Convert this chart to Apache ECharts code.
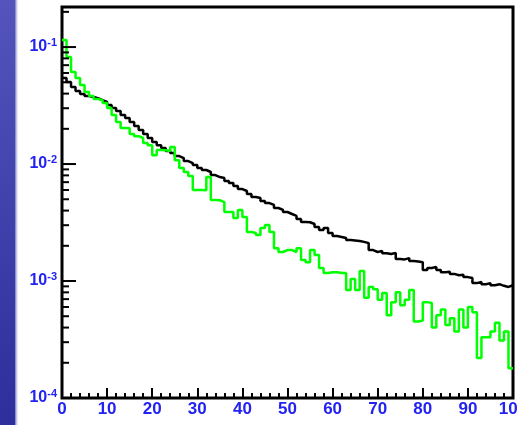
<!DOCTYPE html>
<html><head><meta charset="utf-8">
<script src="https://cdn.jsdelivr.net/npm/echarts@6/dist/echarts.min.js"></script>
<style>html,body{margin:0;padding:0;background:#fff;overflow:hidden;width:518px;height:425px}#c{width:545px;height:425px}</style>
</head><body><div id="c"></div>
<script>
// bin left edges (bin width 1, range 0..100)
const binEdges = Array.from({length: 100}, (_, i) => i);
const xEnd = 100;

const blackValues = [
0.0543,0.0502,0.0455,0.0421,0.0397,0.0381,0.0374,0.0366,0.0352,0.0339,
0.0319,0.0301,0.0284,0.0262,0.0247,0.0229,0.0211,0.0195,0.0181,0.0167,
0.0154,0.0145,0.0137,0.0129,0.0124,0.0117,0.01125,0.0106,0.0102,0.0098,
0.00925,0.00889,0.00855,0.00805,0.00774,0.00759,0.00716,0.00688,0.00649,0.00611,
0.00588,0.00554,0.00523,0.00512,0.00483,0.00464,0.00447,0.00421,0.00405,0.00389,
0.00374,0.0036,0.00339,0.00319,0.00318,0.00307,0.0029,0.00273,0.00284,0.00257,
0.00243,0.00238,0.00233,0.00224,0.00222,0.0022,0.00216,0.00211,0.00184,0.00177,
0.00181,0.00173,0.0017,0.00174,0.00154,0.00153,0.00157,0.00148,0.00147,0.00145,
0.00124,0.00129,0.00132,0.00124,0.00119,0.0012,0.00115,0.00112,0.00113,0.00108,
0.00106,0.00096,0.00098,0.00094,0.00096,0.00092,0.00094,0.00091,0.00089,0.00092];

const greenValues = [
0.115,0.0821,0.0611,0.0543,0.0473,0.0412,0.0381,0.036,0.0352,0.0332,
0.0301,0.0262,0.0229,0.0203,0.0202,0.0181,0.0173,0.0167,0.0151,0.0145,
0.0119,0.0132,0.0131,0.0129,0.014,0.0108,0.00925,0.00855,0.00789,0.006,
0.006,0.00598,0.00774,0.00492,0.0049,0.00473,0.00389,0.00389,0.00345,0.00405,
0.00352,0.00262,0.00257,0.00247,0.00284,0.00301,0.00262,0.00191,0.00177,0.00184,
0.00184,0.00177,0.00191,0.00151,0.00145,0.00184,0.00167,0.00129,0.00117,0.00119,
0.00119,0.00117,0.00117,0.00084,0.00104,0.00084,0.00122,0.00072,0.00089,0.00085,
0.00069,0.00079,0.00051,0.00066,0.0008,0.00062,0.00069,0.00084,0.00045,0.00046,
0.00066,0.00065,0.0004,0.00051,0.00057,0.00042,0.00048,0.00037,0.00057,0.0004,
0.0006,0.00054,0.00022,0.00033,0.00033,0.00037,0.00044,0.00031,0.00037,0.00018];

const yMajorTicks = [1e-4, 1e-3, 1e-2, 1e-1];
const yMinorTicks = [
2e-4,3e-4,4e-4,5e-4,6e-4,7e-4,8e-4,9e-4,
2e-3,3e-3,4e-3,5e-3,6e-3,7e-3,8e-3,9e-3,
2e-2,3e-2,4e-2,5e-2,6e-2,7e-2,8e-2,9e-2,
2e-1];

const LABEL_BLUE = '#2222f2';
const FONT = 'Liberation Sans, Arial, sans-serif';

function stepData(vals) {
  const d = binEdges.map((x, i) => [x, vals[i]]);
  d.push([xEnd, vals[vals.length - 1]]);
  return d;
}

function tickSeries(values, len) {
  return {
    type: 'custom', coordinateSystem: 'cartesian2d', silent: true, z: 6, clip: false,
    data: values.map(v => [0, v]),
    renderItem: function (params, api) {
      const p = api.coord([api.value(0), api.value(1)]);
      return {type: 'line', shape: {x1: p[0], y1: p[1], x2: p[0] + len, y2: p[1]},
              style: {stroke: '#000', lineWidth: 2}};
    }
  };
}

const chart = echarts.init(document.getElementById('c'), null, {renderer: 'canvas'});
chart.setOption({
  animation: false,
  backgroundColor: '#ffffff',
  graphic: [
    {type: 'rect', z: -10, shape: {x: 0, y: 0, width: 15, height: 425},
     style: {fill: {type: 'linear', x: 0, y: 0, x2: 0, y2: 1,
       colorStops: [{offset: 0, color: '#5454bc'}, {offset: 1, color: '#2e2e9c'}]}}},
    {type: 'rect', z: -10, shape: {x: 15, y: 0, width: 4, height: 425},
     style: {fill: {type: 'linear', x: 0, y: 0, x2: 1, y2: 0,
       colorStops: [{offset: 0, color: 'rgba(70,70,180,0.8)'}, {offset: 1, color: 'rgba(255,255,255,0)'}]}}}
  ],
  grid: {left: 62, right: 32, top: 7, bottom: 27, show: true, borderColor: '#000', borderWidth: 3,
         backgroundColor: 'transparent', containLabel: false},
  xAxis: {
    type: 'value', min: 0, max: 100, interval: 10,
    axisLine: {show: false},
    splitLine: {show: false},
    axisTick: {show: true, inside: true, length: 10, lineStyle: {color: '#000', width: 2}},
    minorTick: {show: true, splitNumber: 5, length: 5, lineStyle: {color: '#000', width: 2}},
    minorSplitLine: {show: false},
    axisLabel: {color: LABEL_BLUE, fontSize: 17, fontWeight: 'bold', fontFamily: FONT, margin: 3,
                alignMinLabel: 'center', alignMaxLabel: 'center', hideOverlap: false}
  },
  yAxis: {
    type: 'log', logBase: 10, min: 1e-4, max: 0.22,
    axisLine: {show: false},
    splitLine: {show: false},
    axisTick: {show: false},
    axisLabel: {
      margin: 5,
      formatter: function (v) {
        const l = Math.log10(v);
        const e = Math.round(l);
        if (Math.abs(l - e) > 1e-6) return '';
        return '{b|10}{s|' + e + '}';
      },
      rich: {
        b: {fontSize: 16, fontWeight: 'bold', color: LABEL_BLUE, fontFamily: FONT, lineHeight: 20},
        s: {fontSize: 11, fontWeight: 'bold', color: LABEL_BLUE, fontFamily: FONT, lineHeight: 12, padding: [0, 0, 8, 0]}
      }
    }
  },
  series: [
    {type: 'line', step: 'end', data: stepData(blackValues), showSymbol: false, symbol: 'none',
     lineStyle: {color: '#000000', width: 2.5}, z: 3},
    {type: 'line', step: 'end', data: stepData(greenValues), showSymbol: false, symbol: 'none',
     lineStyle: {color: '#00ff00', width: 2.5}, z: 4},
    tickSeries(yMajorTicks, 14),
    tickSeries(yMinorTicks, 7)
  ]
});
</script></body></html>
